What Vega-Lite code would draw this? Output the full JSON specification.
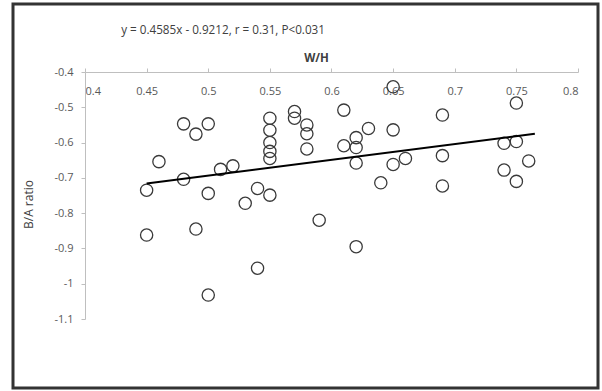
{
  "$schema": "https://vega.github.io/schema/vega-lite/v6.json",
  "width": 585,
  "height": 384,
  "autosize": {"type": "none"},
  "padding": {"left": 13, "top": 4, "right": 4, "bottom": 3},
  "config": {
    "view": {"stroke": "#333333", "strokeWidth": 3},
    "font": "Open Sans",
    "axis": {"grid": false}
  },
  "encoding": {
    "x": {
      "field": "wh", "type": "quantitative",
      "scale": {"domain": [0.4, 0.8], "range": [72, 565], "nice": false, "zero": false},
      "axis": {
        "orient": "top", "offset": -68,
        "values": [0.4, 0.45, 0.5, 0.55, 0.6, 0.65, 0.7, 0.75, 0.8],
        "labelExpr": "replace(format(datum.value, '~g'), '\u2212', '-')",
        "tickSize": 4, "labelPadding": -23, "labelBaseline": "middle",
        "labelFontSize": 11, "labelColor": "#595959",
        "domainColor": "#bfbfbf", "tickColor": "#bfbfbf",
        "title": "W/H", "titleFontSize": 11.5, "titleFontWeight": "bold", "titleColor": "#404040",
        "titleX": 303, "titleY": -9, "titleBaseline": "bottom", "titleAlign": "center"
      }
    },
    "y": {
      "field": "ba", "type": "quantitative",
      "scale": {"domain": [-1.1, -0.4], "range": [315, 68], "nice": false, "zero": false},
      "axis": {
        "orient": "left", "offset": -72,
        "values": [-1.1, -1, -0.9, -0.8, -0.7, -0.6, -0.5, -0.4],
        "labelExpr": "replace(format(datum.value, '~g'), '\u2212', '-')",
        "tickSize": 4, "labelPadding": 8,
        "labelFontSize": 11, "labelColor": "#595959",
        "domainColor": "#bfbfbf", "tickColor": "#bfbfbf",
        "title": "B/A ratio", "titleFontSize": 12, "titleFontWeight": "normal", "titleColor": "#404040",
        "titleAngle": -90, "titleX": -50, "titleY": 200, "titleBaseline": "bottom", "titleAlign": "center"
      }
    }
  },
  "layer": [
    {
      "data": {"values": [
        {"wh": 0.45, "ba": -0.735}, {"wh": 0.45, "ba": -0.862}, {"wh": 0.46, "ba": -0.654},
        {"wh": 0.48, "ba": -0.547}, {"wh": 0.48, "ba": -0.704}, {"wh": 0.49, "ba": -0.576},
        {"wh": 0.49, "ba": -0.845}, {"wh": 0.50, "ba": -0.547}, {"wh": 0.50, "ba": -0.744},
        {"wh": 0.50, "ba": -1.032}, {"wh": 0.51, "ba": -0.676}, {"wh": 0.52, "ba": -0.666},
        {"wh": 0.53, "ba": -0.772}, {"wh": 0.54, "ba": -0.730}, {"wh": 0.54, "ba": -0.956},
        {"wh": 0.55, "ba": -0.531}, {"wh": 0.55, "ba": -0.565}, {"wh": 0.55, "ba": -0.600},
        {"wh": 0.55, "ba": -0.625}, {"wh": 0.55, "ba": -0.645}, {"wh": 0.55, "ba": -0.749},
        {"wh": 0.57, "ba": -0.512}, {"wh": 0.57, "ba": -0.531}, {"wh": 0.58, "ba": -0.550},
        {"wh": 0.58, "ba": -0.575}, {"wh": 0.58, "ba": -0.618}, {"wh": 0.59, "ba": -0.820},
        {"wh": 0.61, "ba": -0.508}, {"wh": 0.61, "ba": -0.609}, {"wh": 0.62, "ba": -0.586},
        {"wh": 0.62, "ba": -0.614}, {"wh": 0.62, "ba": -0.658}, {"wh": 0.62, "ba": -0.895},
        {"wh": 0.63, "ba": -0.560}, {"wh": 0.64, "ba": -0.714}, {"wh": 0.65, "ba": -0.442},
        {"wh": 0.65, "ba": -0.564}, {"wh": 0.65, "ba": -0.662}, {"wh": 0.66, "ba": -0.645},
        {"wh": 0.69, "ba": -0.522}, {"wh": 0.69, "ba": -0.637}, {"wh": 0.69, "ba": -0.723},
        {"wh": 0.74, "ba": -0.602}, {"wh": 0.74, "ba": -0.678}, {"wh": 0.75, "ba": -0.488},
        {"wh": 0.75, "ba": -0.597}, {"wh": 0.75, "ba": -0.710}, {"wh": 0.76, "ba": -0.652}
      ]},
      "mark": {"type": "point", "shape": "circle", "filled": false, "size": 150, "stroke": "#3a3a3a", "strokeWidth": 1.3, "opacity": 1}
    },
    {
      "data": {"values": [{"wh": 0.45, "ba": -0.716}, {"wh": 0.765, "ba": -0.575}]},
      "mark": {"type": "line", "color": "#000000", "strokeWidth": 2}
    },
    {
      "data": {"values": [{"wh": 0.512, "ba": -0.281, "label": "y = 0.4585x - 0.9212, r = 0.31, P<0.031"}]},
      "mark": {"type": "text", "fontSize": 11.7, "color": "#404040", "align": "center", "baseline": "middle"},
      "encoding": {"text": {"field": "label", "type": "nominal"}}
    }
  ]
}
